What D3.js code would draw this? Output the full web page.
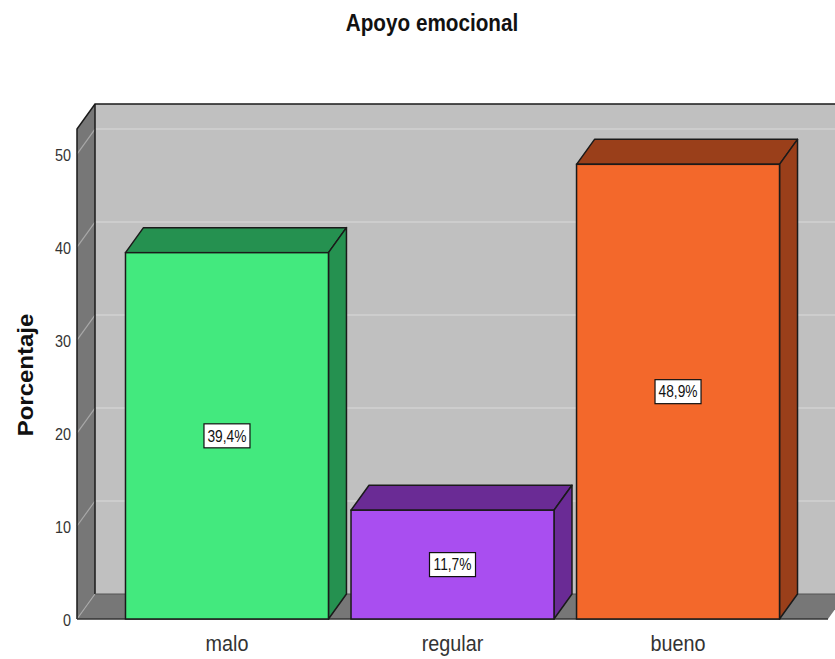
<!DOCTYPE html>
<html>
<head>
<meta charset="utf-8">
<script src="https://cdn.jsdelivr.net/npm/d3@7"></script>
<style>
  html, body { margin: 0; padding: 0; background: #ffffff; }
  svg { display: block; font-family: "Liberation Sans", Arial, sans-serif; }
</style>
</head>
<body>
<svg id="chart" width="835" height="659"></svg>
<script>
// Data
const categories = ["malo", "regular", "bueno"];
const percentages = [39.4, 11.7, 48.9];
const valueLabels = ["39,4%", "11,7%", "48,9%"];
const yTicks = [0, 10, 20, 30, 40, 50];
const frontColors = ["#43e97e", "#a94ef0", "#f3682b"];
const shadeColors = ["#259150", "#6a2b95", "#9a3f1a"];
const chartTitle = "Apoyo emocional";
const yTitle = "Porcentaje";

const svg = d3.select("#chart");

// Plot frame (front plane) and depth offset of the 3D box
const pLeft = 77, pRight = 828, pBase = 619, pTop = 129;
const dx = 18, dy = -25;
const sx = 0.9; // horizontal text compression

const y = d3.scaleLinear().domain([0, 52.7]).range([pBase, pTop]);
const x = d3.scaleBand().domain(categories).range([pLeft, pRight])
  .paddingInner(0.1).paddingOuter(0.215);

const g = svg.append("g");

// Back wall
g.append("rect")
  .attr("x", pLeft + dx).attr("y", pTop + dy)
  .attr("width", (pRight - pLeft)).attr("height", pBase - pTop)
  .attr("fill", "#c0c0c0");

// Grid lines on back wall
yTicks.filter(t => t > 0).forEach(t => {
  g.append("line")
    .attr("x1", pLeft + dx).attr("x2", pRight + dx)
    .attr("y1", y(t) + dy).attr("y2", y(t) + dy)
    .attr("stroke", "#d2d2d2").attr("stroke-width", 1.5);
});

// Left wall
g.append("path")
  .attr("d", `M${pLeft},${pTop} L${pLeft + dx},${pTop + dy} L${pLeft + dx},${pBase + dy} L${pLeft},${pBase} Z`)
  .attr("fill", "#777777");

// Floor
g.append("path")
  .attr("d", `M${pLeft},${pBase} L${pLeft + dx},${pBase + dy} L${pRight + dx},${pBase + dy} L${pRight},${pBase} Z`)
  .attr("fill", "#777777");

// Grid lines on the left wall
yTicks.forEach(t => {
  g.append("line")
    .attr("x1", pLeft).attr("y1", y(t))
    .attr("x2", pLeft + dx).attr("y2", y(t) + dy)
    .attr("stroke", "#a8a8a8").attr("stroke-width", 1.2);
});

// Frame edges
const edge = "#1a1a1a";
g.append("path")
  .attr("d", `M${pLeft},${pBase} L${pLeft},${pTop} L${pLeft + dx},${pTop + dy} L${pRight + dx},${pTop + dy}`)
  .attr("fill", "none").attr("stroke", edge).attr("stroke-width", 1.5);
g.append("line")
  .attr("x1", pLeft + dx).attr("x2", pLeft + dx)
  .attr("y1", pTop + dy).attr("y2", pBase + dy)
  .attr("stroke", edge).attr("stroke-width", 1.5);
g.append("line")
  .attr("x1", pLeft + dx).attr("x2", pRight + dx)
  .attr("y1", pBase + dy).attr("y2", pBase + dy)
  .attr("stroke", "#555").attr("stroke-width", 1);
g.append("line")
  .attr("x1", pLeft).attr("x2", pRight)
  .attr("y1", pBase).attr("y2", pBase)
  .attr("stroke", "#333").attr("stroke-width", 1.5);

// Bars
const bars = g.selectAll("g.bar")
  .data(categories.map((c, i) => ({ c, v: percentages[i], i })))
  .join("g").attr("class", "bar");

bars.append("path")
  .attr("d", d => {
    const x0 = x(d.c), x1 = x0 + x.bandwidth(), yv = y(d.v);
    return `M${x0},${yv} L${x0 + dx},${yv + dy} L${x1 + dx},${yv + dy} L${x1},${yv} Z`;
  })
  .attr("fill", d => shadeColors[d.i]).attr("stroke", edge).attr("stroke-width", 1.5)
  .attr("stroke-linejoin", "round");

bars.append("path")
  .attr("d", d => {
    const x1 = x(d.c) + x.bandwidth(), yv = y(d.v), y0 = y(0);
    return `M${x1},${yv} L${x1 + dx},${yv + dy} L${x1 + dx},${y0 + dy} L${x1},${y0} Z`;
  })
  .attr("fill", d => shadeColors[d.i]).attr("stroke", edge).attr("stroke-width", 1.5)
  .attr("stroke-linejoin", "round");

bars.append("rect")
  .attr("x", d => x(d.c)).attr("y", d => y(d.v))
  .attr("width", x.bandwidth()).attr("height", d => y(0) - y(d.v))
  .attr("fill", d => frontColors[d.i]).attr("stroke", edge).attr("stroke-width", 1.5);

// Value labels in boxes
bars.each(function (d) {
  const cx = x(d.c) + x.bandwidth() / 2;
  const cy = (y(d.v) + y(0)) / 2;
  const lab = d3.select(this).append("g").attr("transform", `translate(${cx},${cy})`);
  const bw = 46, bh = 24;
  lab.append("rect")
    .attr("x", -bw / 2).attr("y", -bh / 2).attr("width", bw).attr("height", bh)
    .attr("fill", "#ffffff").attr("stroke", "#111").attr("stroke-width", 1.2);
  lab.append("text")
    .attr("transform", `scale(0.86,1)`)
    .attr("text-anchor", "middle").attr("dy", "0.36em")
    .attr("font-size", 16).attr("fill", "#111")
    .text(valueLabels[d.i]);
});

// Y tick labels
g.selectAll("text.ytick")
  .data(yTicks).join("text").attr("class", "ytick")
  .attr("transform", t => `translate(71,${y(t) + 1}) scale(${sx},1)`)
  .attr("text-anchor", "end").attr("dy", "0.36em")
  .attr("font-size", 16).attr("fill", "#333")
  .text(t => t);

// Category labels
g.selectAll("text.xcat")
  .data(categories).join("text").attr("class", "xcat")
  .attr("transform", c => `translate(${x(c) + x.bandwidth() / 2},651) scale(${sx},1)`)
  .attr("text-anchor", "middle")
  .attr("font-size", 22).attr("fill", "#333")
  .text(c => c);

// Axis title
svg.append("text")
  .attr("transform", `translate(33,375) rotate(-90) scale(1,${sx})`)
  .attr("text-anchor", "middle")
  .attr("font-size", 24).attr("font-weight", "bold").attr("fill", "#111")
  .text(yTitle);

// Chart title
svg.append("text")
  .attr("transform", `translate(432,31) scale(${sx},1)`)
  .attr("text-anchor", "middle")
  .attr("font-size", 23).attr("font-weight", "bold").attr("fill", "#111")
  .text(chartTitle);
</script>
</body>
</html>
